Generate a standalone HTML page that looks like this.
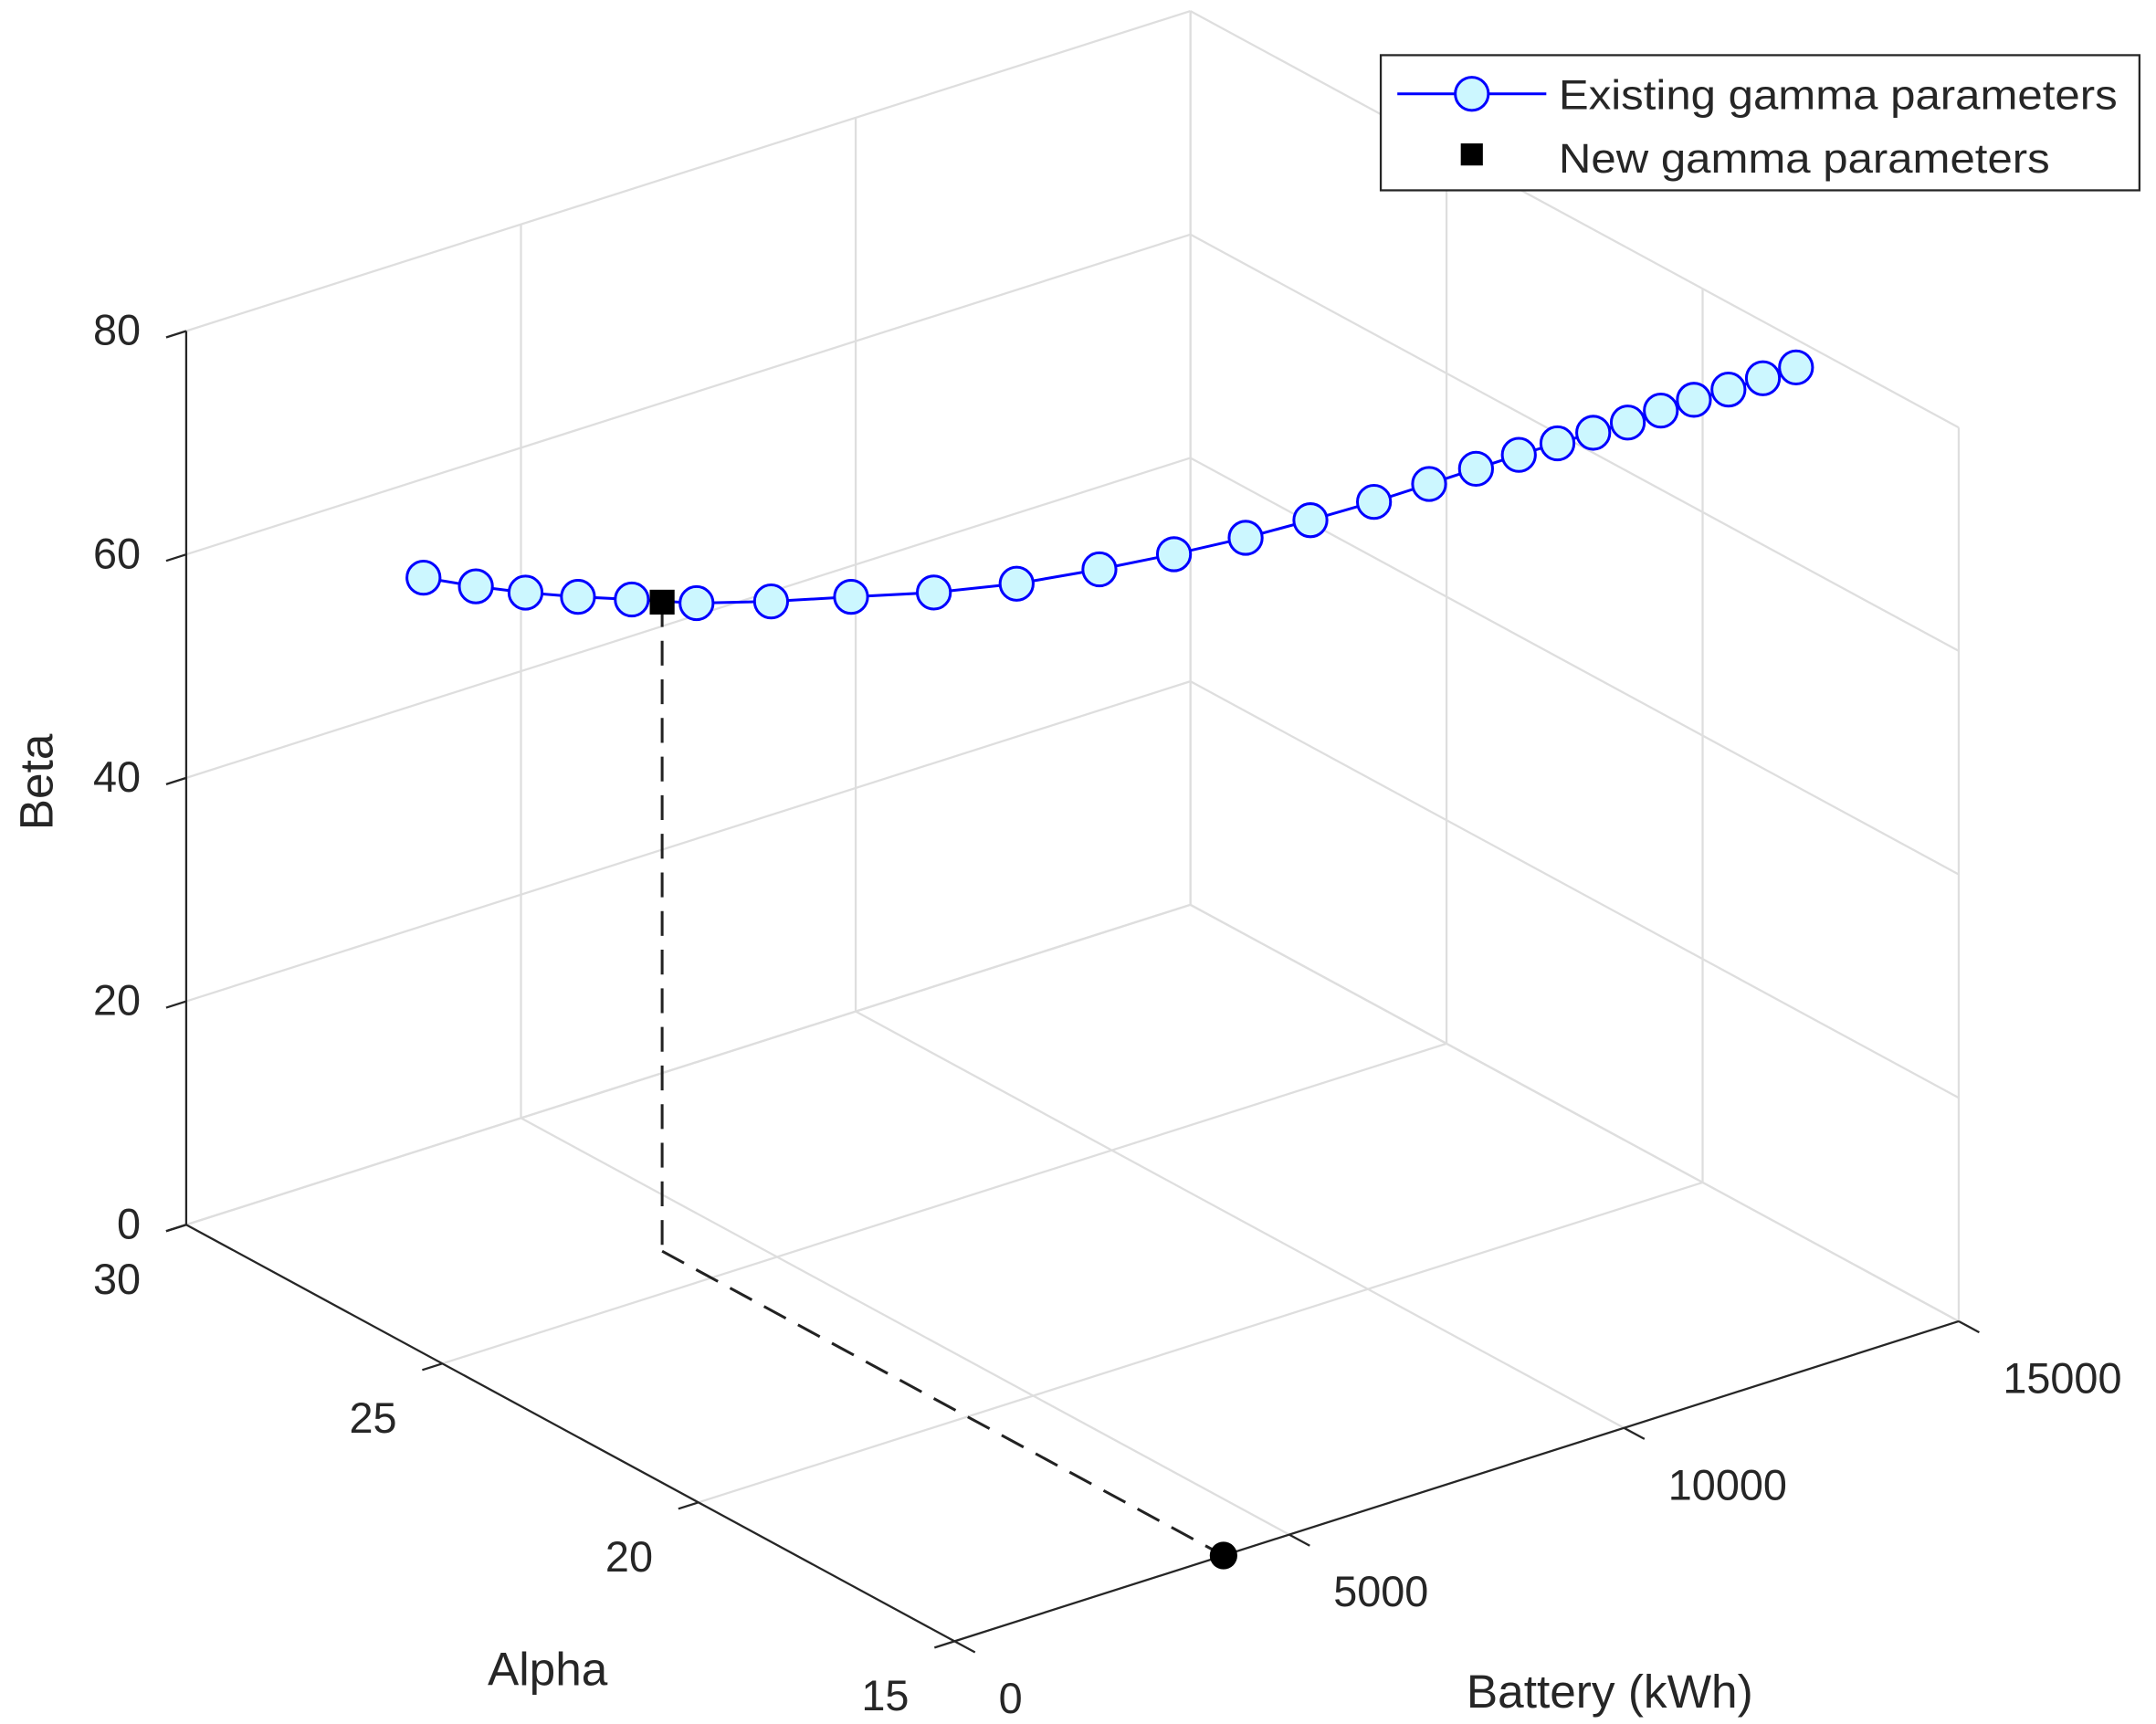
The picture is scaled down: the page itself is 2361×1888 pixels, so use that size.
<!DOCTYPE html>
<html><head><meta charset="utf-8"><style>
html,body{margin:0;padding:0;background:#fff;}
svg{display:block;}
text{font-family:"Liberation Sans",sans-serif;fill:#262626;}
</style></head><body>
<svg id="chart" width="2361" height="1888" viewBox="0 0 1563 1250" preserveAspectRatio="none" xmlns="http://www.w3.org/2000/svg">
<g id="grid"></g>
<g id="axes"></g>
<g id="series"></g>
<g id="legend">
  <rect x="1001" y="40" width="550" height="98" fill="#fff" stroke="#262626" stroke-width="1.5"/>
  <g>
    <line x1="1013" y1="68" x2="1121" y2="68" stroke="#0000ff" stroke-width="2"/>
    <circle cx="1067" cy="68" r="12" fill="#ccf7ff" stroke="#0000ff" stroke-width="2"/>
    <text x="1130" y="79" font-size="30" textLength="405" lengthAdjust="spacingAndGlyphs">Existing gamma parameters</text>
  </g>
  <g>
    <rect x="1059" y="104" width="16" height="16" fill="#000"/>
    <text x="1130" y="125" font-size="30" textLength="356" lengthAdjust="spacingAndGlyphs">New gamma parameters</text>
  </g>
</g>
</svg>
<script>
const alphaVals=[29,28.5,28,27.5,27,26.5,26,25.5,25,24.5,24,23.5,23,22.5,22,21.5,21,20.5,20,19.5,19,18.5,18,17.5,17,16.5];
const batteryVals=[2779,3179,3538,3939,4360,4945,5676,6488,7342,8196,9050,9781,10469,11054,11621,12062,12380,12637,12831,12983,13117,13228,13339,13473,13605,13717];
const betaVals=[55.1,54.8,54.8,54.9,55.1,54.9,54.9,55.0,55.0,55.4,56.3,57.5,58.9,60.6,62.4,64.4,66.4,68.4,70.3,72.2,74.1,76.2,78.2,80.1,82.1,84.1];
const newAlpha=25.96, newBattery=4018, newBeta=58.1;
const alphaTicks=[30,25,20,15];
const batteryTicks=[0,5000,10000,15000];
const betaTicks=[0,20,40,60,80];

const NS="http://www.w3.org/2000/svg";
function P(a,b,c){return [135+(30-a)/15*557+b/15000*728, 888+(30-a)/15*302-b/15000*232-c*8.1];}
function mk(tag,attrs,parent){const e=document.createElementNS(NS,tag);for(const k in attrs)e.setAttribute(k,attrs[k]);parent.appendChild(e);return e;}
function line(p,q,parent,stroke,w,dash){const l=mk('line',{x1:p[0],y1:p[1],x2:q[0],y2:q[1],stroke:stroke,'stroke-width':w},parent);if(dash)l.setAttribute('stroke-dasharray',dash);return l;}
const grid=document.getElementById('grid'),axes=document.getElementById('axes'),series=document.getElementById('series');
const gc='#dedede';
for(const c of betaTicks){
  let l=line(P(30,0,c),P(30,15000,c),grid,gc,1.5);
  
  
  l=line(P(30,15000,c),P(15,15000,c),grid,gc,1.5);
  
  
}
for(const b of batteryTicks){
  let l=line(P(30,b,0),P(30,b,80),grid,gc,1.5);
  
  
  l=line(P(30,b,0),P(15,b,0),grid,gc,1.5);
  
  
}
for(const a of alphaTicks){
  let l=line(P(a,15000,0),P(a,15000,80),grid,gc,1.5);
  
  
  l=line(P(a,0,0),P(a,15000,0),grid,gc,1.5);
  
  
}
const ac='#262626';
let ax=line(P(30,0,0),P(30,0,80),axes,ac,1.5);


ax=line(P(30,0,0),P(15,0,0),axes,ac,1.5);


ax=line(P(15,0,0),P(15,15000,0),axes,ac,1.5);


for(const c of betaTicks){
  const p=P(30,0,c);line(p,P(30,-300,c),axes,ac,1.5);
  const t=mk('text',{x:p[0]-33,y:p[1]+10,'font-size':31,'text-anchor':'end'},axes);t.textContent=c;
  
  
}
for(const a of alphaTicks){
  const p=P(a,0,0);line(p,P(a,-300,0),axes,ac,1.5);
  const t=mk('text',{x:p[0]-33,y:p[1]+50,'font-size':31,'text-anchor':'end'},axes);t.textContent=a;
  
  
}
for(const b of batteryTicks){
  const p=P(15,b,0);line(p,P(14.6,b,0),axes,ac,1.5);
  const t=mk('text',{x:p[0]+32,y:p[1]+52,'font-size':31,'text-anchor':'start'},axes);t.textContent=b;
  
  
}
let tt=mk('text',{x:0,y:0,'font-size':34,'text-anchor':'middle',transform:'translate(38,567) rotate(-90)'},axes);tt.textContent='Beta';


tt=mk('text',{x:397,y:1222,'font-size':34,'text-anchor':'middle'},axes);tt.textContent='Alpha';


tt=mk('text',{x:1167,y:1238,'font-size':34,'text-anchor':'middle'},axes);tt.textContent='Battery (kWh)';


const newPt=P(newAlpha,newBattery,newBeta),floorPt=P(newAlpha,newBattery,0),edgePt=P(15,newBattery,0);
let d=line(newPt,floorPt,series,'#222',2,'18,10');


d=line(floorPt,edgePt,series,'#222',2,'18,10');


const dot=mk('circle',{cx:edgePt[0],cy:edgePt[1],r:10,fill:'#000'},series);


const pts=alphaVals.map((a,i)=>P(a,batteryVals[i],betaVals[i]));
const pl=mk('polyline',{points:pts.map(p=>p.join(',')).join(' '),fill:'none',stroke:'#0000ff','stroke-width':2},series);


pts.forEach(p=>{
  const c=mk('circle',{cx:p[0],cy:p[1],r:12,fill:'#ccf7ff',stroke:'#0000ff','stroke-width':2},series);
  
  
});
const sq=mk('rect',{x:newPt[0]-9,y:newPt[1]-9,width:18,height:18,fill:'#000'},series);


</script>
</body></html>
